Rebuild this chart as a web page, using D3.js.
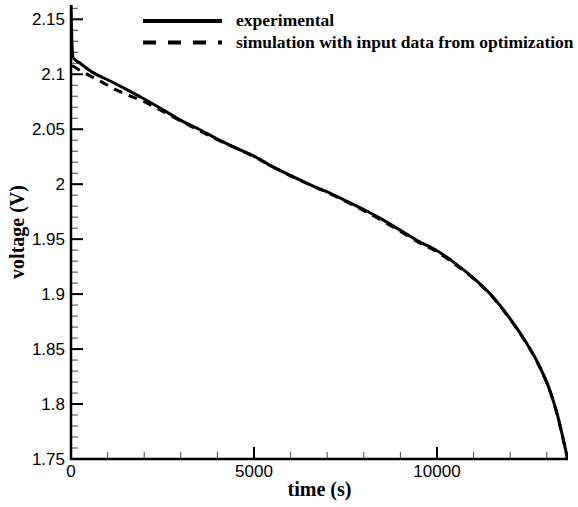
<!DOCTYPE html>
<html>
<head>
<meta charset="utf-8">
<script src="https://cdn.jsdelivr.net/npm/d3@7"></script>
<style>
  html, body { margin: 0; padding: 0; background: #fff; }
  .tick-label { font-family: "Liberation Sans", Arial, sans-serif; font-size: 17px; fill: #000; }
  .axis-title { font-family: "Liberation Serif", "Times New Roman", serif; font-weight: bold; font-size: 20px; fill: #000; }
  .legend-text { font-family: "Liberation Serif", "Times New Roman", serif; font-weight: bold; font-size: 17.5px; fill: #000; }
</style>
</head>
<body>
<div id="chart"></div>
<script>
/* Discharge curve: measured voltage vs. simulation fed with optimised input data. */

// experimental discharge (s, V)
const EXP_T = [0, 30, 60, 250, 600, 1000, 1500, 2000, 2500, 3000, 3500, 4000, 4500, 5000,
  5500, 6000, 6500, 7000, 7500, 8000, 8500, 9000, 9500, 10000, 10500, 11000, 11500,
  12000, 12400, 12800, 13100, 13300, 13450, 13570];
const EXP_V = [2.163, 2.125, 2.115, 2.110, 2.1015, 2.095, 2.0865, 2.0775, 2.068, 2.058, 2.050,
  2.041, 2.033, 2.0255, 2.016, 2.008, 2.000, 1.993, 1.985, 1.977, 1.968, 1.958, 1.948,
  1.9395, 1.928, 1.9145, 1.8985, 1.8775, 1.858, 1.8345, 1.811, 1.789, 1.768, 1.750];

// simulation with input data from optimization (s, V)
const SIM_T = [30, 300, 700, 1250, 2000, 2500, 3000, 4000, 5000, 6000, 7000, 8000, 9000,
  9500, 10000, 10500, 11000, 11500, 12000, 12400, 12800, 13100, 13300, 13450, 13570];
const SIM_V = [2.108, 2.1025, 2.0955, 2.0855, 2.075, 2.0665, 2.0575, 2.0405, 2.025, 2.0075,
  1.9925, 1.976, 1.957, 1.947, 1.9385, 1.927, 1.914, 1.898, 1.877, 1.8575, 1.834,
  1.8105, 1.7885, 1.7675, 1.750];

const X_MAJOR = [0, 5000, 10000];
const Y_MAJOR = [1.75, 1.8, 1.85, 1.9, 1.95, 2, 2.05, 2.1, 2.15];
const LEGEND = ["experimental", "simulation with input data from optimization"];

const W = 578, H = 507;
const M = {left: 71, right: 10, top: 5, bottom: 48};

const svg = d3.select("#chart").append("svg").attr("width", W).attr("height", H);

const x = d3.scaleLinear().domain([0, 13580]).range([M.left, W - M.right]);
const y = d3.scaleLinear().domain([1.75, 2.163]).range([H - M.bottom, M.top]);

svg.append("clipPath").attr("id", "plot-clip").append("rect")
    .attr("x", M.left).attr("y", M.top)
    .attr("width", W - M.right - M.left).attr("height", H - M.bottom - M.top);

// minor ticks (inside)
const xMinor = d3.range(0, 13580, 1000).filter(t => !X_MAJOR.includes(t));
const yMinor = d3.range(1.75, 2.1625, 0.01).filter(v => !Y_MAJOR.some(m => Math.abs(m - v) < 1e-6));

svg.append("g").selectAll("line").data(xMinor).join("line")
    .attr("x1", d => x(d)).attr("x2", d => x(d))
    .attr("y1", y(1.75)).attr("y2", y(1.75) - 7)
    .attr("stroke", "#444").attr("stroke-width", 1);
svg.append("g").selectAll("line").data(yMinor).join("line")
    .attr("x1", M.left).attr("x2", M.left + 7)
    .attr("y1", d => y(d)).attr("y2", d => y(d))
    .attr("stroke", "#444").attr("stroke-width", 1);

// major ticks
svg.append("g").selectAll("line").data(X_MAJOR).join("line")
    .attr("x1", d => x(d)).attr("x2", d => x(d))
    .attr("y1", y(1.75)).attr("y2", y(1.75) - 12)
    .attr("stroke", "#000").attr("stroke-width", 2);
svg.append("g").selectAll("line").data(Y_MAJOR).join("line")
    .attr("x1", M.left).attr("x2", M.left + 12)
    .attr("y1", d => y(d)).attr("y2", d => y(d))
    .attr("stroke", "#000").attr("stroke-width", 2);

// tick labels
svg.append("g").selectAll("text").data(X_MAJOR).join("text")
    .attr("class", "tick-label")
    .attr("x", d => x(d)).attr("y", y(1.75) + 18)
    .attr("text-anchor", "middle")
    .text(d => d);
svg.append("g").selectAll("text").data(Y_MAJOR).join("text")
    .attr("class", "tick-label")
    .attr("x", M.left - 6).attr("y", d => y(d) + 6)
    .attr("text-anchor", "end")
    .text(d => d3.format("~g")(d));

// curves
const line = d3.line().x(d => x(d[0])).y(d => y(d[1])).curve(d3.curveMonotoneX);
const expData = EXP_T.map((t, i) => [t, EXP_V[i]]);
const simData = SIM_T.map((t, i) => [t, SIM_V[i]]);

const curves = svg.append("g").attr("clip-path", "url(#plot-clip)");
curves.append("path").datum(expData)
    .attr("d", line).attr("fill", "none")
    .attr("stroke", "#000").attr("stroke-width", 3);
curves.append("path").datum(simData)
    .attr("d", line).attr("fill", "none")
    .attr("stroke", "#000").attr("stroke-width", 3)
    .attr("stroke-dasharray", "9,7");

// axis lines (left + bottom only)
svg.append("line")
    .attr("x1", M.left).attr("x2", M.left)
    .attr("y1", M.top).attr("y2", y(1.75) + 1)
    .attr("stroke", "#000").attr("stroke-width", 2.5);
svg.append("line")
    .attr("x1", M.left - 1).attr("x2", W - M.right)
    .attr("y1", y(1.75)).attr("y2", y(1.75))
    .attr("stroke", "#000").attr("stroke-width", 2.5);

// axis titles
svg.append("text").attr("class", "axis-title")
    .attr("x", (M.left + W - M.right) / 2).attr("y", 496)
    .attr("text-anchor", "middle")
    .text("time (s)");
svg.append("text").attr("class", "axis-title")
    .attr("transform", `translate(24,${(M.top + H - M.bottom) / 2}) rotate(-90)`)
    .attr("text-anchor", "middle")
    .text("voltage (V)");

// legend
const legY = [21, 42.5];
const legend = svg.append("g");
legend.selectAll("line").data(LEGEND).join("line")
    .attr("x1", 143).attr("x2", 222)
    .attr("y1", (d, i) => legY[i]).attr("y2", (d, i) => legY[i])
    .attr("stroke", "#000").attr("stroke-width", 4)
    .attr("stroke-dasharray", (d, i) => i === 1 ? "13,12" : null);
legend.selectAll("text").data(LEGEND).join("text")
    .attr("class", "legend-text")
    .attr("x", 236).attr("y", (d, i) => legY[i] + 5)
    .text(d => d);
</script>
</body>
</html>
